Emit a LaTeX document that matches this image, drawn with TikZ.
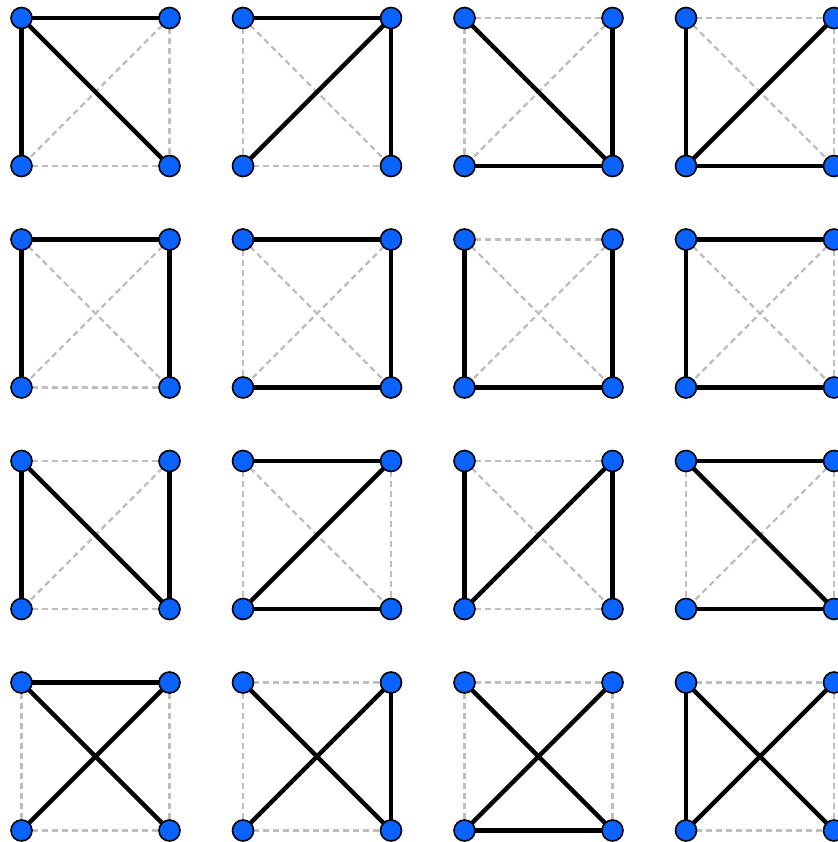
\documentclass[tikz,border=0pt]{standalone}
\usetikzlibrary{calc}
\definecolor{vblue}{RGB}{10,98,255}
\definecolor{dgray}{RGB}{190,190,190}
\tikzset{
  vert/.style={circle,draw=black,line width=1.6pt,fill=vblue,minimum size=21pt,inner sep=0pt},
  treeedge/.style={black,line width=4.4pt},
  offedge/.style={dgray,line width=2.2pt,dash pattern=on 6pt off 4pt}
}
\begin{document}
\begin{tikzpicture}[x=1pt,y=1pt]
\useasboundingbox (0,0) rectangle (837,-842);
\foreach \r/\c/\T/\D in {
 0/0/{a/b,a/c,a/d}/{b/c,b/d,c/d},
 0/1/{a/b,b/c,b/d}/{a/c,a/d,c/d},
 0/2/{a/d,b/d,c/d}/{a/b,a/c,b/c},
 0/3/{a/c,b/c,c/d}/{a/b,a/d,b/d},
 1/0/{a/b,a/c,b/d}/{a/d,b/c,c/d},
 1/1/{a/b,b/d,c/d}/{a/c,a/d,b/c},
 1/2/{a/c,c/d,b/d}/{a/b,a/d,b/c},
 1/3/{a/b,a/c,c/d}/{a/d,b/c,b/d},
 2/0/{a/c,a/d,b/d}/{a/b,b/c,c/d},
 2/1/{a/b,b/c,c/d}/{a/c,a/d,b/d},
 2/2/{a/c,b/c,b/d}/{a/b,a/d,c/d},
 2/3/{a/b,a/d,c/d}/{a/c,b/c,b/d},
 3/0/{a/b,a/d,b/c}/{a/c,b/d,c/d},
 3/1/{a/d,b/c,b/d}/{a/b,a/c,c/d},
 3/2/{a/d,b/c,c/d}/{a/b,a/c,b/d},
 3/3/{a/c,a/d,b/c}/{a/b,b/d,c/d}}
{
  \pgfmathsetmacro{\xl}{21.5+221.5*\c}
  \pgfmathsetmacro{\xr}{\xl+148}
  \pgfmathsetmacro{\yt}{-(18+221.5*\r)}
  \pgfmathsetmacro{\yb}{\yt-148}
  \coordinate (p\r\c a) at (\xl,\yt);
  \coordinate (p\r\c b) at (\xr,\yt);
  \coordinate (p\r\c c) at (\xl,\yb);
  \coordinate (p\r\c d) at (\xr,\yb);
  \foreach \u/\v in \D { \draw[offedge] (p\r\c\u) -- (p\r\c\v); }
  \foreach \u/\v in \T { \draw[treeedge] (p\r\c\u) -- (p\r\c\v); }
  \foreach \w in {a,b,c,d} { \node[vert] (n\r\c\w) at (p\r\c\w) {}; }
}
\end{tikzpicture}
\end{document}
